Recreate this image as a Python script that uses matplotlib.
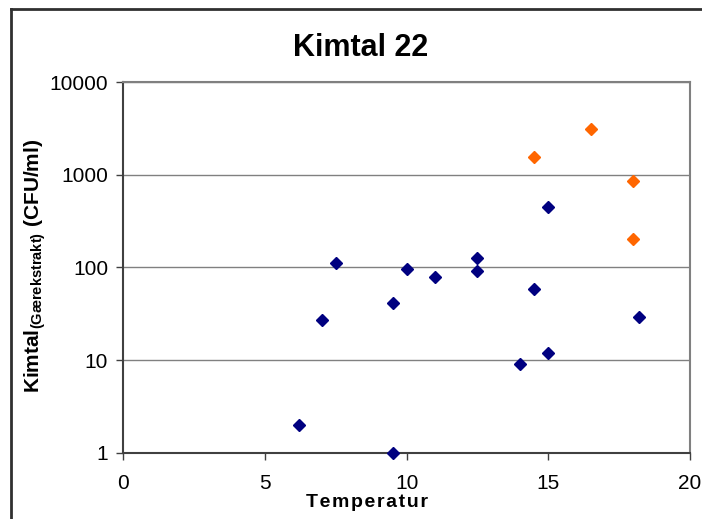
import matplotlib
matplotlib.use('Agg')
import matplotlib.pyplot as plt
from matplotlib.lines import Line2D

plt.rcParams['font.family'] = ['Liberation Sans', 'DejaVu Sans']
plt.rcParams['mathtext.fontset'] = 'custom'
plt.rcParams['mathtext.bf'] = 'Liberation Sans:bold'
plt.rcParams['mathtext.rm'] = 'Liberation Sans'

# Blå punkter
temp_blaa = [6.2, 7.0, 7.5, 9.5, 9.5, 10.0, 11.0, 12.5, 12.5, 14.0, 14.5, 15.0, 15.0, 18.2]
kim_blaa = [2, 27, 112, 41, 1, 96, 79, 125, 91, 9, 58, 12, 450, 29]

# Orange punkter
temp_orange = [14.5, 16.5, 18.0, 18.0]
kim_orange = [1550, 3100, 860, 200]

x_ticks = [0, 5, 10, 15, 20]
y_ticks = [1, 10, 100, 1000, 10000]
y_ticklabels = ['1', '10', '100', '1000', '10000']

fig = plt.figure(figsize=(7.02, 5.19), dpi=100)
ax = fig.add_axes([0.1758, 0.1277, 0.807, 0.7143])

# ramme om diagrammet (kun top og venstre er synlige)
top = 1 - 9 / 519
left = 11 / 702
fig.lines.append(Line2D([left, 1], [top, top], transform=fig.transFigure,
                        color='#303030', linewidth=2))
fig.lines.append(Line2D([left, left], [0, top], transform=fig.transFigure,
                        color='#303030', linewidth=2))

ax.set_yscale('log')
ax.set_xlim(0, 20)
ax.set_ylim(1, 10000)

ax.grid(axis='y', which='major', color='#808080', linewidth=1)
ax.set_axisbelow(True)

ax.plot(temp_blaa, kim_blaa, 'D', color='#000080', markersize=6.5, clip_on=False, zorder=3)
ax.plot(temp_orange, kim_orange, 'D', color='#FF6600', markersize=6.5, clip_on=False, zorder=3)

ax.set_xticks(x_ticks)
ax.set_xticklabels([str(t) for t in x_ticks], fontsize=15)
ax.set_yticks(y_ticks)
ax.set_yticklabels(y_ticklabels, fontsize=15)
ax.minorticks_off()
ax.tick_params(axis='both', direction='out', length=5, width=1, color='#404040', pad=6)
ax.tick_params(axis='x', pad=10)

for s in ['top', 'right']:
    ax.spines[s].set_color('#808080')
    ax.spines[s].set_linewidth(1.5)
for s in ['left', 'bottom']:
    ax.spines[s].set_color('#404040')
    ax.spines[s].set_linewidth(1.5)

fig.text(0.513, 0.908, 'Kimtal 22', fontsize=22, fontweight='bold', ha='center', va='center')
fig.text(0.523, 0.032, 'T e m p e r a t u r'.replace(' ', '\u200a'), fontsize=14, fontweight='bold',
         ha='center', va='center')
fig.text(0.05, 0.488, r'Kimtal$_{\mathbf{(Gærekstrakt)}}$ (CFU/ml)', fontsize=15, fontweight='bold',
         rotation=90, ha='center', va='center')

plt.savefig('out.png', dpi=100)
